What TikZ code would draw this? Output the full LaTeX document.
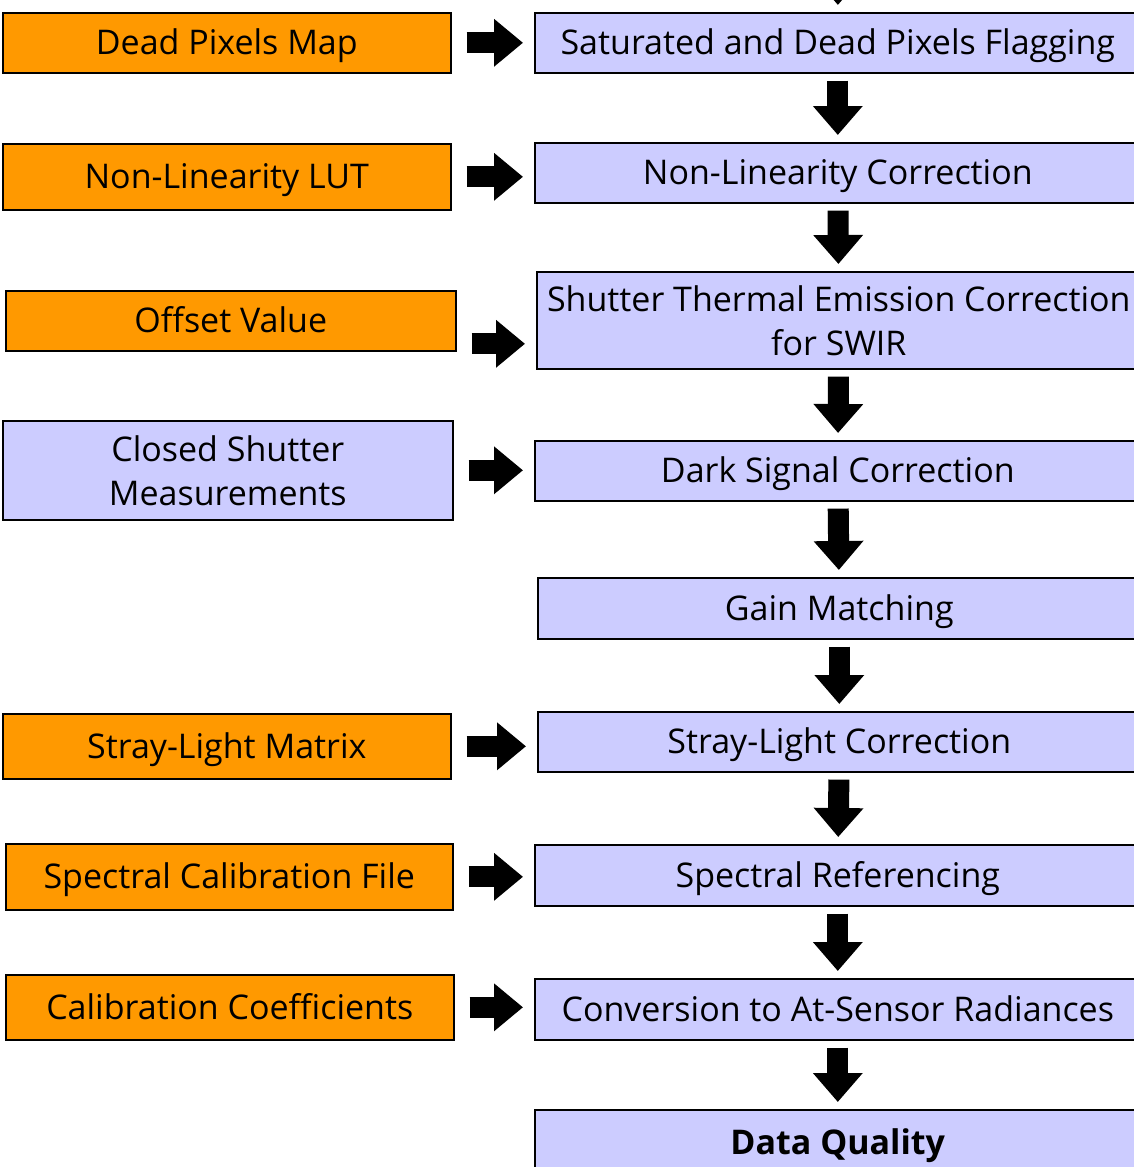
\documentclass[tikz,border=0pt]{standalone}
\usepackage{fontspec}
\setmainfont{Open Sans}
\usetikzlibrary{arrows.meta,positioning}
\definecolor{inputorange}{HTML}{FF9900}
\definecolor{steplilac}{HTML}{CCCCFF}

\begin{document}
\begin{tikzpicture}[x=1pt,y=-1pt]
    \fontsize{34}{44}\selectfont
    \tikzstyle{box_node}=[draw=black,line width=1.6pt,anchor=north west,inner sep=0pt,align=center,text height=25pt,text depth=1pt]
    \tikzstyle{two_lines}=[text height=,text depth=]
    \tikzstyle{input_node}=[box_node,fill=inputorange]
    \tikzstyle{step_node}=[box_node,fill=steplilac]
    \tikzstyle{flow_down}=[line width=21pt,-{Triangle[width=48pt,length=29pt]},shorten <=7pt,shorten >=7pt]
    \tikzstyle{flow_right}=[line width=21pt,-{Triangle[width=46pt,length=29pt]},shorten <=15pt,shorten >=11pt]
    \useasboundingbox (0,0) rectangle (1134,1167);
    \clip (0,0) rectangle (1134,1167);

    % inputs on the left
    \node[input_node,minimum width=448pt,minimum height=60pt] (deadmap)  at (2,12)   {Dead Pixels Map};
    \node[input_node,minimum width=448pt,minimum height=66pt] (nonlut)   at (2,143)  {Non-Linearity LUT};
    \node[input_node,minimum width=450pt,minimum height=60pt] (offset)   at (5,290)  {Offset Value};
    \node[step_node,two_lines,minimum width=450pt,minimum height=99pt] (closed) at (2,420) {Closed Shutter\\Measurements};
    \node[input_node,minimum width=448pt,minimum height=65pt] (straymat) at (2,713)  {Stray-Light Matrix};
    \node[input_node,minimum width=447pt,minimum height=66pt] (specfile) at (5,843)  {Spectral Calibration File};
    \node[input_node,minimum width=448pt,minimum height=65pt] (calcoef)  at (5,974)  {Calibration Coefficients};

    % processing chain on the right
    \node[step_node,minimum width=606pt,minimum height=60pt] (flag)    at (534,12)   {Saturated and Dead Pixels Flagging};
    \node[step_node,minimum width=606pt,minimum height=60pt] (nonlin)  at (534,142)  {Non-Linearity Correction};
    \node[step_node,two_lines,minimum width=604pt,minimum height=97pt] (thermal) at (536,271) {Shutter Thermal Emission Correction\\for SWIR};
    \node[step_node,minimum width=606pt,minimum height=60pt] (dark)    at (534,440)  {Dark Signal Correction};
    \node[step_node,minimum width=603pt,minimum height=61pt] (gain)    at (537,577)  {Gain Matching};
    \node[step_node,minimum width=603pt,minimum height=60pt] (stray)   at (537,711)  {Stray-Light Correction};
    \node[step_node,minimum width=606pt,minimum height=61pt] (specref) at (534,844)  {Spectral Referencing};
    \node[step_node,minimum width=606pt,minimum height=61pt] (conv)    at (534,978)  {Conversion to At-Sensor Radiances};
    \node[step_node,minimum width=606pt,minimum height=66pt] (quality) at (534,1109) {\bfseries Data Quality};

    \coordinate (above) at (838,-46);
    \coordinate (offarrow) at ([yshift=-23pt]offset.east);

\path[flow_down]
(above) edge (flag)
(flag) edge (nonlin)
(nonlin) edge (thermal)
(thermal) edge (dark)
(dark) edge (gain)
(gain) edge (stray)
(stray) edge (specref)
(specref) edge (conv)
(conv) edge (quality);

\path[flow_right]
(deadmap) edge (deadmap -| flag.west)
(nonlut) edge (nonlut -| nonlin.west)
(offarrow) edge (offarrow -| thermal.west)
(closed) edge (closed -| dark.west)
(straymat) edge (straymat -| stray.west)
(specfile) edge (specfile -| specref.west)
(calcoef) edge (calcoef -| conv.west);

\end{tikzpicture}
\end{document}
